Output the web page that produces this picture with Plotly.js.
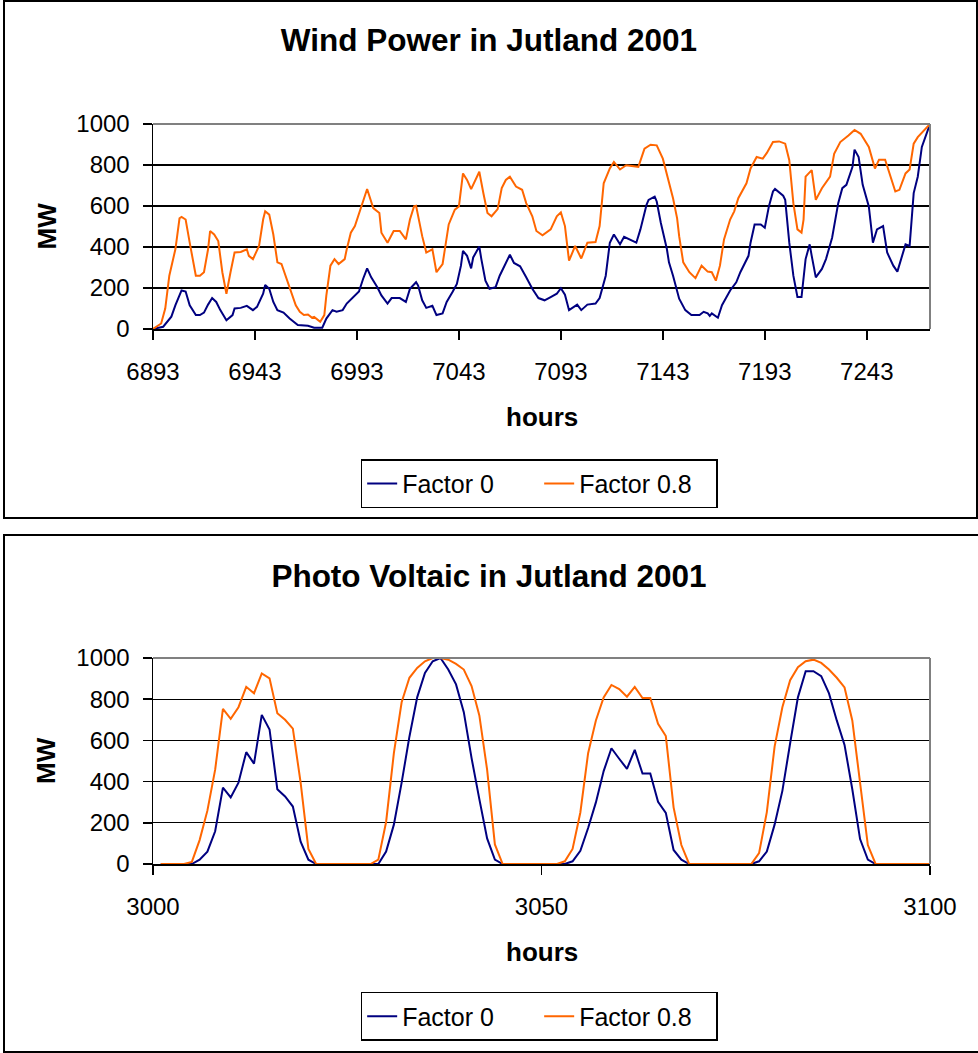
<!DOCTYPE html>
<html><head><meta charset="utf-8">
<script src="https://cdn.plot.ly/plotly-3.0.1.min.js"></script>
<style>
body{margin:0;background:#fff;width:978px;height:1053px;overflow:hidden;}
#wind{position:absolute;left:0;top:0;width:978px;height:520px;}
#pv{position:absolute;left:0;top:530px;width:978px;height:523px;}
.box{position:absolute;border:2px solid #000;box-sizing:border-box;pointer-events:none;z-index:10;}
</style></head><body>
<div id="wind"></div><div id="pv"></div>
<div class="box" style="left:3px;top:0px;width:975px;height:519px;"></div>
<div class="box" style="left:3px;top:534px;width:985px;height:519px;"></div>
<script>
// ---------- Wind power data (hours, MW) ----------
const windHours8 = [6893,6897,6899,6901,6904,6906,6907,6909,6911,6914,6916,6918,6920,6921,6923,6925,6927,6929,6931,6933,6936,6939,6940,6942,6945,6947,6948,6950,6952,6954,6956,6958,6960,6963,6965,6967,6969,6971,6972,6975,6977,6978,6980,6982,6984,6987,6988,6990,6992,6995,6998,7001,7004,7005,7008,7011,7014,7017,7019,7021,7022,7025,7027,7030,7032,7035,7036,7038,7041,7043,7045,7047,7049,7051,7053,7055,7057,7059,7062,7064,7066,7068,7071,7074,7076,7079,7081,7084,7088,7091,7093,7095,7097,7100,7103,7106,7110,7112,7114,7117,7119,7122,7125,7131,7134,7137,7140,7143,7146,7148,7150,7151,7153,7156,7159,7162,7165,7167,7169,7171,7173,7176,7178,7180,7184,7186,7189,7192,7194,7197,7200,7203,7205,7207,7209,7211,7212,7213,7216,7218,7221,7225,7227,7230,7234,7237,7240,7244,7247,7249,7252,7255,7257,7259,7262,7264,7266,7268,7271,7274];
const wind8 = [0,27,100,260,390,540,547,534,421,260,260,277,389,478,461,429,277,172,277,373,376,389,357,341,405,534,574,558,461,325,317,260,196,116,84,68,71,55,59,35,68,164,309,341,317,341,389,470,502,590,683,590,566,470,421,478,478,437,534,598,601,453,373,389,277,317,389,510,582,598,759,727,682,727,767,662,566,550,585,687,727,743,695,679,614,550,478,457,486,550,569,502,333,405,344,421,424,502,711,783,815,778,799,791,880,899,896,831,711,638,540,453,325,277,248,309,280,277,236,309,437,534,574,638,711,783,839,831,859,912,915,904,823,614,486,470,534,743,775,630,687,743,855,912,944,971,952,888,783,826,826,727,671,679,759,778,904,936,968,1000];
const windHours0 = [6893,6898,6902,6904,6907,6909,6911,6914,6916,6918,6920,6922,6924,6926,6929,6932,6933,6936,6939,6942,6944,6947,6948,6950,6952,6954,6957,6960,6964,6969,6972,6976,6978,6981,6983,6986,6988,6991,6994,6996,6998,7000,7003,7005,7008,7010,7014,7017,7019,7022,7023,7025,7027,7030,7032,7035,7037,7040,7042,7044,7045,7047,7049,7050,7053,7054,7056,7058,7061,7063,7066,7068,7070,7073,7076,7079,7082,7085,7088,7091,7093,7095,7097,7101,7103,7106,7110,7112,7115,7117,7119,7122,7124,7127,7130,7132,7135,7136,7139,7140,7142,7145,7146,7148,7151,7154,7157,7161,7163,7165,7166,7167,7170,7172,7176,7179,7181,7185,7186,7188,7191,7193,7195,7197,7198,7202,7203,7205,7207,7209,7211,7213,7215,7216,7218,7221,7223,7226,7229,7231,7233,7236,7237,7239,7241,7244,7246,7248,7251,7253,7256,7258,7260,7262,7264,7266,7268,7270,7274];
const wind0 = [0,11,60,116,188,183,116,68,68,80,119,151,132,92,43,68,100,103,113,92,108,172,215,196,132,92,80,51,19,16,6,6,51,92,84,92,124,156,183,244,296,252,204,164,124,151,151,132,196,228,212,140,103,113,68,76,132,183,220,309,381,357,296,349,402,341,236,196,204,260,325,362,322,306,252,196,151,140,156,172,199,167,92,119,92,119,124,151,260,421,461,413,450,434,421,486,606,630,646,622,518,389,325,260,148,92,68,68,84,76,64,76,55,116,188,228,277,357,421,510,510,494,598,671,683,650,630,421,260,156,156,341,413,357,252,293,341,445,614,687,703,791,875,839,703,598,421,486,502,373,309,280,341,413,405,663,743,888,1000];
const windTicks = [6893,6943,6993,7043,7093,7143,7193,7243];

// ---------- Photo voltaic data (hours, MW) ----------
const pvHours = [3001,
 3004,3005,3006,3007,3008,3009,3010,3011,3012,3013,3014,3015,3016,3017,3018,3019,3020,3021,
 3028,3029,3030,3031,3032,3033,3034,3035,3036,3037,3038,3039,3040,3041,3042,3043,3044,3045,
 3052,3053,3054,3055,3056,3057,3058,3059,3060,3061,3062,3063,3064,3065,3066,3067,3068,3069,
 3076,3077,3078,3079,3080,3081,3082,3083,3084,3085,3086,3087,3088,3089,3090,3091,3092,3093,
 3100];
const pv8 = [0,
 0,10,116,259,458,753,705,761,860,829,925,901,732,700,657,395,73,0,
 0,21,204,538,785,904,952,984,1000,1000,992,971,944,864,721,458,95,0,
 0,13,73,250,538,697,809,869,849,812,860,806,806,681,621,275,92,0,
 0,0,53,252,570,761,892,955,984,992,976,944,904,857,697,395,92,0,
 0];
const pv0 = [0,
 0,0,21,60,159,371,323,395,543,487,724,653,363,328,279,108,21,0,
 0,0,60,191,395,618,809,928,984,1000,944,872,737,514,315,124,21,0,
 0,0,13,64,175,299,451,562,511,462,554,439,439,302,248,68,21,0,
 0,0,13,60,191,355,586,809,936,936,912,828,697,578,363,121,21,0,
 0];
const pvTicks = [3000,3050,3100];
const yTicks = [0,200,400,600,800,1000];
const seriesNames = ['Factor 0','Factor 0.8'];
const seriesColors = ['#000080','#FF6600'];

const FONT = 'Liberation Sans, Arial, sans-serif';

function yAxis(){
  return {range:[0,1000], tickvals:yTicks, ticktext:yTicks.map(String),
    ticks:'outside', ticklen:9, tickwidth:1.5, tickcolor:'#000',
    showline:true, linecolor:'#000', linewidth:1.5,
    showgrid:true, gridcolor:'#000', gridwidth:1.3, zeroline:false,
    tickfont:{family:FONT,size:24,color:'#000'}, ticklabelstandoff:8, fixedrange:true};
}
function xAxis(range, ticks){
  return {range:range, tickvals:ticks, ticktext:ticks.map(String),
    ticks:'outside', ticklen:9, tickwidth:1.5, tickcolor:'#000',
    showline:true, linecolor:'#000', linewidth:1.5, showgrid:false, zeroline:false,
    tickfont:{family:FONT,size:24,color:'#000'}, ticklabelstandoff:12, fixedrange:true};
}
function frameShapes(){
  return [
    {type:'line', xref:'paper', yref:'paper', x0:0, x1:1, y0:1, y1:1, line:{color:'#808080', width:2}},
    {type:'line', xref:'paper', yref:'paper', x0:1, x1:1, y0:0, y1:1, line:{color:'#808080', width:2}}
  ];
}
function axisLabels(hoursShift){
  return [
    {text:'<b>MW</b>', xref:'paper', yref:'paper', x:0, y:0.5, xshift:-107, textangle:-90,
      showarrow:false, font:{family:FONT,size:26,color:'#000'}, xanchor:'center', yanchor:'middle'},
    {text:'<b>hours</b>', xref:'paper', yref:'paper', x:0.5, y:0, yshift:hoursShift,
      showarrow:false, font:{family:FONT,size:26,color:'#000'}, xanchor:'center', yanchor:'middle'}
  ];
}
function legendCfg(y){
  return {orientation:'h', x:0.497, xanchor:'center', y:y, yanchor:'middle',
    bordercolor:'#000', borderwidth:1.5, bgcolor:'#fff', entrywidth:132, entrywidthmode:'pixels',
    font:{family:FONT,size:25,color:'#000'}, traceorder:'normal'};
}

const windTraces = [
  {x:windHours0, y:wind0, name:seriesNames[0], mode:'lines', line:{color:seriesColors[0], width:2}},
  {x:windHours8, y:wind8, name:seriesNames[1], mode:'lines', line:{color:seriesColors[1], width:2}}
];
const windLayout = {
  width:978, height:520, margin:{l:153, r:48, t:124, b:189},
  paper_bgcolor:'#fff', plot_bgcolor:'#fff', showlegend:true,
  title:{text:'<b>Wind Power in Jutland 2001</b>', font:{family:FONT,size:31.5,color:'#000'},
    x:0.5, xref:'container', y:1-40/520, yref:'container', yanchor:'middle', xanchor:'center'},
  xaxis:xAxis([6893,7274], windTicks), yaxis:yAxis(),
  shapes:frameShapes(), annotations:axisLabels(-88),
  legend:legendCfg(-0.755)
};

const pvTraces = [
  {x:pvHours, y:pv0, name:seriesNames[0], mode:'lines', line:{color:seriesColors[0], width:2}},
  {x:pvHours, y:pv8, name:seriesNames[1], mode:'lines', line:{color:seriesColors[1], width:2}}
];
const pvLayout = {
  width:978, height:523, margin:{l:153, r:48, t:128, b:185},
  paper_bgcolor:'#fff', plot_bgcolor:'#fff', showlegend:true,
  title:{text:'<b>Photo Voltaic in Jutland 2001</b>', font:{family:FONT,size:31.5,color:'#000'},
    x:0.5, xref:'container', y:1-46/523, yref:'container', yanchor:'middle', xanchor:'center'},
  xaxis:xAxis([3000,3100], pvTicks), yaxis:yAxis(),
  shapes:frameShapes(), annotations:axisLabels(-88),
  legend:legendCfg(-0.74)
};

const cfg = {staticPlot:true, displayModeBar:false};
Plotly.newPlot('wind', windTraces, windLayout, cfg);
Plotly.newPlot('pv', pvTraces, pvLayout, cfg);
</script>
</body></html>
